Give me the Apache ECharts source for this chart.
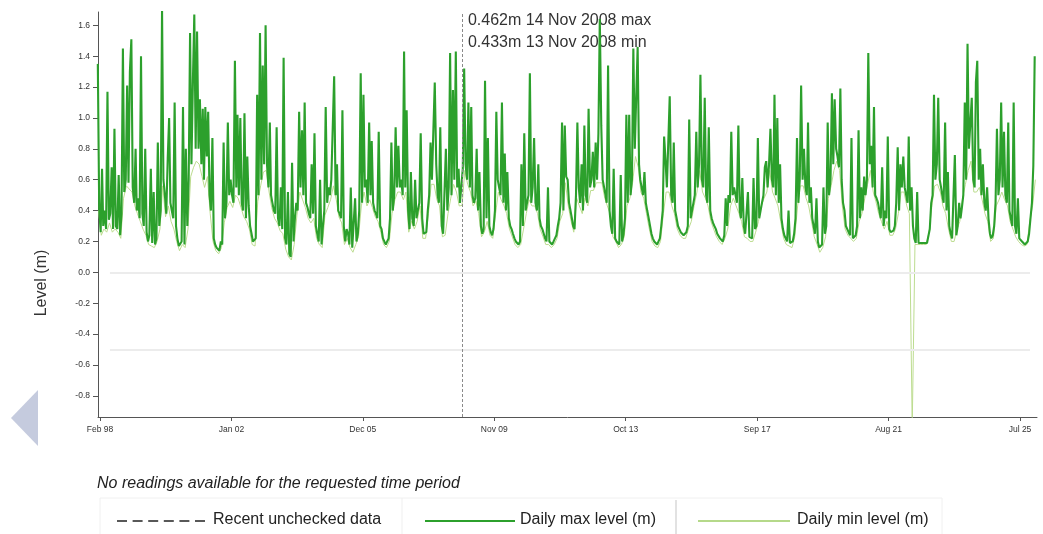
<!DOCTYPE html>
<html>
<head>
<meta charset="utf-8">
<script src="https://cdn.jsdelivr.net/npm/echarts@6/dist/echarts.min.js"></script>
<style>
  html, body { margin: 0; padding: 0; background: #fff; }
  #chart { width: 1043px; height: 534px; }
</style>
</head>
<body>
<div id="chart"></div>
<script>
// Daily maximum river level, sampled twice a month (1st and 2nd half), in centimetres.
// 24 readings per year from Jan 1998; the last year stops in early December 2025.
const firstYear = 1998;
const dailyMaxCm = [
  /*1998*/ 135,42,26,67,30,40,28,117,34,38,68,28,93,30,28,63,24,38,145,52,60,121,58,130,
  /*1999*/ 151,55,45,80,40,48,35,140,38,30,80,26,20,24,67,19,52,18,22,84,30,40,170,60,
  /*2000*/ 50,38,74,100,45,40,35,110,30,22,17,16,20,107,18,80,30,60,155,70,124,167,80,156,
  /*2001*/ 80,112,70,106,60,107,75,104,50,40,87,22,18,16,15,14,20,18,84,35,45,97,50,60,
  /*2002*/ 50,45,137,55,102,50,100,45,40,103,35,75,43,30,25,20,19,22,115,50,155,60,134,70,
  /*2003*/ 160,70,55,97,50,45,40,38,94,35,30,55,28,139,22,18,52,12,10,71,20,35,45,40,
  /*2004*/ 104,55,92,50,110,45,42,38,35,70,38,90,30,25,20,60,18,30,40,107,45,55,50,60,
  /*2005*/ 60,127,50,70,40,38,35,105,30,20,28,25,18,55,16,15,48,20,25,40,129,45,115,55,
  /*2006*/ 60,45,97,50,85,45,40,38,35,91,30,28,22,20,18,20,22,35,84,40,50,94,55,82,
  /*2007*/ 55,60,50,143,55,105,40,28,65,35,30,60,35,40,45,90,35,25,24,26,40,50,84,60,
  /*2008*/ 60,123,70,50,45,94,30,25,26,80,40,55,142,50,118,60,143,55,67,45,46.2,67,132,70,
  /*2009*/ 60,110,55,107,50,45,48,80,40,65,30,25,28,124,35,87,30,26,24,28,40,104,60,55,
  /*2010*/ 50,110,45,77,40,65,35,30,28,25,22,20,19,18,20,70,30,90,40,45,50,129,45,55,
  /*2011*/ 87,45,40,70,35,30,28,25,22,20,55,20,19,18,20,22,24,30,35,45,97,40,95,62,
  /*2012*/ 60,45,40,35,30,28,50,97,55,45,70,40,95,50,45,106,55,60,78,55,84,60,90,164,
  /*2013*/ 95,60,55,50,45,134,40,30,25,67,22,20,19,18,63,20,25,35,102,45,102,50,60,145,
  /*2014*/ 80,113,146,70,60,55,50,65,45,40,35,30,25,22,20,19,18,20,22,30,40,88,73,55,
  /*2015*/ 55,114,50,45,84,40,35,30,28,26,25,24,24,26,30,99,35,40,45,50,91,55,70,128,
  /*2016*/ 60,55,113,50,45,94,40,35,32,30,28,25,24,22,21,20,24,48,30,50,45,91,50,55,
  /*2017*/ 50,45,95,40,35,61,30,25,24,52,23,22,22,61,28,30,87,35,40,45,50,68,72,55,
  /*2018*/ 70,93,60,55,115,50,100,45,70,35,28,24,22,20,40,19,18,20,25,35,87,45,60,121,
  /*2019*/ 60,80,55,50,97,45,55,35,30,25,48,20,16,15,18,55,25,30,97,50,60,116,70,112,
  /*2020*/ 80,75,68,119,60,45,40,30,28,26,24,87,22,22,24,30,92,35,55,40,62,50,60,142,
  /*2021*/ 70,82,55,107,50,48,45,40,35,68,30,40,35,88,28,26,26,27,30,45,81,40,70,55,
  /*2022*/ 75,55,50,45,88,40,55,30,22,19,52,19,19,19,19,19,19,19,19,28,45,50,115,60,
  /*2023*/ 70,113,60,55,50,45,97,40,65,30,25,22,22,76,24,30,45,35,42,50,110,60,148,80,
  /*2024*/ 80,113,60,55,123,137,60,80,50,70,45,40,55,35,25,22,24,30,45,93,50,60,110,55,
  /*2025*/ 91,50,45,97,40,35,30,110,30,25,48,22,21,20,19,18,19,20,25,35,45,69,140
];

// Daily minimum level, one reading per month (mid-month), in centimetres.
const dailyMinCm = [
  /*1998*/ 40,24,28,26,32,26,28,26,22,48,56,54,
  /*1999*/ 52,43,38,33,28,24,18,17,16,20,28,56,
  /*2000*/ 36,43,33,28,20,14,18,16,28,62,68,72,
  /*2001*/ 70,62,55,62,38,20,14,12,16,32,42,46,
  /*2002*/ 42,50,48,42,36,33,28,18,17,46,56,65,
  /*2003*/ 66,52,42,35,32,27,25,15,10,8,18,37,
  /*2004*/ 52,47,42,35,32,35,22,18,16,37,42,47,
  /*2005*/ 56,47,36,32,18,22,16,13,18,23,43,52,
  /*2006*/ 43,47,42,36,33,26,18,16,20,38,47,52,
  /*2007*/ 52,47,52,26,33,28,33,43,22,22,38,57,
  /*2008*/ 57,47,43,23,24,38,48,57,52,43,43.3,66,
  /*2009*/ 57,52,43,46,38,23,26,33,24,22,38,52,
  /*2010*/ 47,43,38,28,23,18,16,18,28,38,47,43,
  /*2011*/ 43,38,28,23,18,18,16,18,22,33,38,58,
  /*2012*/ 43,33,26,48,43,38,48,43,53,53,58,58,
  /*2013*/ 58,48,43,38,23,20,16,18,23,43,48,58,
  /*2014*/ 75,68,52,48,38,28,20,17,16,20,38,52,
  /*2015*/ 52,43,38,28,24,22,22,28,33,43,52,66,
  /*2016*/ 52,48,43,33,28,23,20,18,22,28,43,48,
  /*2017*/ 43,38,33,23,22,20,20,26,33,43,48,52,
  /*2018*/ 66,52,48,43,33,22,18,17,16,23,43,56,
  /*2019*/ 56,48,43,33,23,18,13,16,23,48,56,66,
  /*2020*/ 72,66,43,28,24,22,20,22,33,38,48,57,
  /*2021*/ 66,52,46,38,33,28,33,24,24,28,38,52,
  /*2022*/ 52,43,38,-100,18,18,18,18,18,26,43,56,
  /*2023*/ 57,52,43,38,28,20,20,28,33,48,57,66,
  /*2024*/ 72,52,52,55,47,38,33,20,22,43,47,52,
  /*2025*/ 47,43,33,28,23,20,18,17,18,33,43,60
];

// Axis ticks
const xTickDates  = ['1998-02-01','2002-01-01','2005-12-01','2009-11-01','2013-10-01','2017-09-01','2021-08-01','2025-07-01'];
const xTickLabels = ['Feb 98','Jan 02','Dec 05','Nov 09','Oct 13','Sep 17','Aug 21','Jul 25'];
const yTicks = [-0.8,-0.6,-0.4,-0.2,0.0,0.2,0.4,0.6,0.8,1.0,1.2,1.4,1.6];

// Typical-range guide levels (m)
const refLevels = [0.0, -0.5];
const refSpan = ['1998-05-20', '2025-10-18'];

// Readout for the cursor date
const readoutDate = '2008-11-14';
const readoutMaxIndex = (2008 - firstYear) * 24 + 20;   // 1st half of Nov 2008
const readoutMinIndex = (2008 - firstYear) * 12 + 10;   // Nov 2008

const FONT = '"Liberation Sans", Arial, sans-serif';
const utc = s => Date.parse(s + 'T00:00:00Z');

const maxData = dailyMaxCm.map((v, i) => {
  const y = firstYear + Math.floor(i / 24), k = i % 24;
  return [Date.UTC(y, Math.floor(k / 2), k % 2 ? 23 : 8), v / 100];
});
const minData = dailyMinCm.map((v, i) => {
  const y = firstYear + Math.floor(i / 12), m = i % 12;
  return [Date.UTC(y, m, 15), v / 100];
});

const xTickTimes = xTickDates.map(utc);
function xLabel(v) {
  for (let i = 0; i < xTickTimes.length; i++) {
    if (Math.abs(xTickTimes[i] - v) < 86400000) return xTickLabels[i];
  }
  return '';
}

const chart = echarts.init(document.getElementById('chart'));
const option = {
  animation: false,
  backgroundColor: '#fff',
  grid: { left: 98, right: 6, top: 12, bottom: 117 },
  xAxis: {
    type: 'value',
    min: Date.UTC(1998, 0, 10),
    max: Date.UTC(2026, 0, 2),
    axisLine: { show: true, onZero: false, lineStyle: { color: '#555', width: 1 } },
    axisTick: { show: true, customValues: xTickTimes, length: 4, lineStyle: { color: '#555' } },
    axisLabel: { customValues: xTickTimes, formatter: xLabel, fontSize: 8.5, color: '#333',
                 margin: 8, fontFamily: FONT },
    splitLine: { show: false }
  },
  yAxis: {
    type: 'value',
    min: -0.937,
    max: 1.686,
    axisLine: { show: true, lineStyle: { color: '#555', width: 1 } },
    axisTick: { show: true, customValues: yTicks, length: 5, lineStyle: { color: '#555' } },
    axisLabel: { customValues: yTicks, formatter: v => v.toFixed(1), fontSize: 8.5, color: '#333',
                 margin: 8, fontFamily: FONT },
    splitLine: { show: false }
  },
  series: [
    {
      name: 'Daily min level (m)',
      type: 'line',
      data: minData,
      showSymbol: false,
      lineStyle: { color: '#bcdc8f', width: 1 },
      z: 2,
      markLine: {
        silent: true,
        symbol: 'none',
        label: { show: false },
        lineStyle: { color: '#ececec', width: 2, type: 'solid' },
        data: refLevels.map(v => [{ coord: [utc(refSpan[0]), v] }, { coord: [utc(refSpan[1]), v] }])
      }
    },
    {
      name: 'Daily max level (m)',
      type: 'line',
      data: maxData,
      showSymbol: false,
      lineStyle: { color: '#2ca02c', width: 2.1 },
      z: 3
    },
    {
      name: 'Recent unchecked data',
      type: 'line',
      data: [],
      z: 4,
      markLine: {
        silent: true,
        symbol: 'none',
        label: { show: false },
        lineStyle: { color: '#8a8a8a', width: 1, type: [3, 2] },
        data: [{ xAxis: utc(readoutDate) }]
      }
    }
  ]
};
chart.setOption(option);

// Readout text, axis title, navigation arrow and the key underneath
const cursorX = chart.convertToPixel({ xAxisIndex: 0 }, utc(readoutDate));
const maxVal = (dailyMaxCm[readoutMaxIndex] / 100).toFixed(3);
const minVal = (dailyMinCm[readoutMinIndex] / 100).toFixed(3);
const textStyle = (extra) => Object.assign({ fontFamily: FONT, fontSize: 16, fill: '#222' }, extra);

chart.setOption({
  graphic: [
    { type: 'text', left: cursorX + 6, top: 13, silent: true,
      style: textStyle({ text: maxVal + 'm 14 Nov 2008 max', fill: '#333' }) },
    { type: 'text', left: cursorX + 6, top: 35, silent: true,
      style: textStyle({ text: minVal + 'm 13 Nov 2008 min', fill: '#333' }) },
    { type: 'text', x: 42, y: 283, rotation: Math.PI / 2, silent: true,
      style: textStyle({ text: 'Level (m)', fill: '#333', align: 'center', verticalAlign: 'middle' }) },
    { type: 'polygon', silent: true,
      shape: { points: [[38, 390], [11, 418], [38, 446]] },
      style: { fill: '#c5cbde' } },
    { type: 'text', left: 97, top: 476, silent: true,
      style: textStyle({ text: 'No readings available for the requested time period', fontStyle: 'italic' }) },
    { type: 'rect', silent: true, shape: { x: 100, y: 498, width: 842, height: 40 },
      style: { fill: 'none', stroke: '#f0f0f0', lineWidth: 1 } },
    { type: 'line', silent: true, shape: { x1: 402, y1: 498, x2: 402, y2: 534 },
      style: { stroke: '#efefef', lineWidth: 1 } },
    { type: 'line', silent: true, shape: { x1: 676, y1: 500, x2: 676, y2: 534 },
      style: { stroke: '#d9d9d9', lineWidth: 1.5 } },
    { type: 'line', silent: true, shape: { x1: 117, y1: 521, x2: 205, y2: 521 },
      style: { stroke: '#222', lineWidth: 1.5, lineDash: [10, 5.6] } },
    { type: 'text', left: 213, top: 512, silent: true, style: textStyle({ text: 'Recent unchecked data' }) },
    { type: 'line', silent: true, shape: { x1: 425, y1: 521, x2: 515, y2: 521 },
      style: { stroke: '#2ca02c', lineWidth: 2 } },
    { type: 'text', left: 520, top: 512, silent: true, style: textStyle({ text: 'Daily max level (m)' }) },
    { type: 'line', silent: true, shape: { x1: 698, y1: 521, x2: 790, y2: 521 },
      style: { stroke: '#b5d98a', lineWidth: 2 } },
    { type: 'text', left: 797, top: 512, silent: true, style: textStyle({ text: 'Daily min level (m)' }) }
  ]
});
</script>
</body>
</html>
